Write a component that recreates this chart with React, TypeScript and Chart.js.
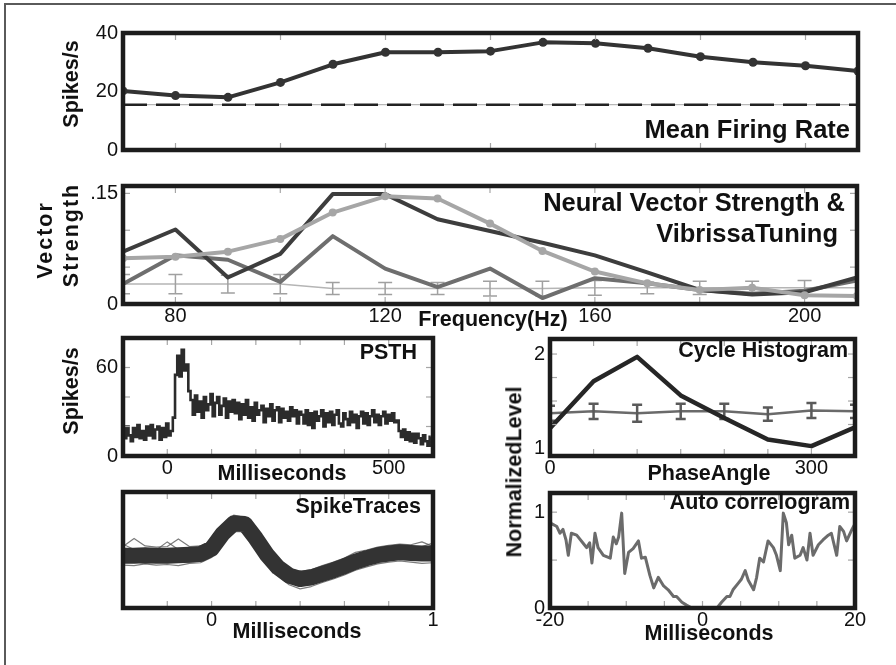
import React, { useEffect, useRef } from "react";
import { Chart, registerables } from "chart.js";

Chart.register(...registerables);

const FONT = "'Liberation Sans', Arial, Helvetica, sans-serif";

// ---------- Panel 1 : Mean Firing Rate ----------
const freqHz = [70, 80, 90, 100, 110, 120, 130, 140, 150, 160, 170, 180, 190, 200, 210];
const meanRate = [20.2, 18.6, 18.0, 23.1, 29.3, 33.4, 33.4, 33.8, 36.8, 36.5, 34.8, 31.9, 30.0, 28.8, 27.0];
const spontRate = 15.5;
const rateTicks = [0, 20, 40];
const freqMinorTicks = [80, 100, 120, 140, 160, 180, 200];

// ---------- Panel 2 : Neural Vector Strength & Vibrissa Tuning ----------
const vsNeuronLight = [0.062, 0.064, 0.071, 0.088, 0.124, 0.146, 0.143, 0.109, 0.072, 0.044, 0.028, 0.019, 0.022, 0.012, 0.011];
const vsNeuronDark = [0.071, 0.101, 0.036, 0.068, 0.149, 0.149, 0.115, 0.099, 0.083, 0.066, 0.043, 0.019, 0.013, 0.016, 0.036];
const vsNeuronMid = [0.027, 0.066, 0.060, 0.030, 0.092, 0.048, 0.023, 0.048, 0.008, 0.035, 0.028, 0.019, 0.014, 0.018, 0.032];
const vsVibrissa = [0.027, 0.027, 0.027, 0.027, 0.021, 0.021, 0.021, 0.021, 0.021, 0.022, 0.022, 0.022, 0.022, 0.022, 0.022];
const vsVibrissaErr = [0.013, 0.013, 0.012, 0.013, 0.008, 0.008, 0.008, 0.01, 0.01, 0.01, 0.008, 0.009, 0.009, 0.01, 0.01];
const freqTickLabels = [80, 120, 160, 200];
const vsTicks = [0, 0.15];
const vsMinorTicks = [0.05, 0.1, 0.15];

// ---------- Panel 3 : PSTH ----------
const psthStartMs = -100;
const psthBinMs = 5;
const psthRate = [
  18, 12, 20, 14, 10, 19, 13, 21, 12, 17, 11, 20, 14, 21, 12, 18, 20, 11, 19, 13, 22, 14, 17,
  26, 55, 68, 54, 72, 58, 62, 44,
  38, 28, 41, 30, 37, 26, 40, 31, 35, 42, 27, 36, 40, 28, 34, 39, 26, 37, 30, 38,
  29, 36, 25, 35, 28, 38, 26, 33, 24, 36, 28, 31, 34, 23, 32, 27, 35, 24, 31, 33, 23, 32, 26, 30, 24, 33, 27, 31, 22, 30,
  28, 22, 31, 21, 29, 19, 30, 24, 27, 31, 20, 29, 23, 30, 21, 28, 31, 22, 20, 29, 25, 21, 30, 23, 28, 19, 27, 30, 22, 29,
  21, 27, 31, 23, 28, 21, 27, 30, 22, 28, 24, 29, 23,
  24, 17, 13, 18, 11, 16, 10, 15, 9, 15, 12, 8, 14, 10, 7, 13,
];
const psthXTicks = [0, 500];
const psthYTicks = [0, 60];
const psthMinorX = [0, 100, 200, 300, 400, 500];
const psthMinorY = [20, 40, 60];

// ---------- Panel 4 : Cycle Histogram ----------
const phaseDeg = [0, 50, 100, 150, 200, 250, 300, 350];
const cycleNeural = [1.21, 1.71, 1.97, 1.56, 1.32, 1.09, 1.02, 1.22];
const cycleVibrissa = [1.37, 1.39, 1.37, 1.39, 1.39, 1.36, 1.4, 1.39];
const cycleVibrissaErr = [0.08, 0.08, 0.09, 0.08, 0.08, 0.07, 0.08, 0.07];
const phaseTicks = [0, 300];
const levelTicks = [1, 2];
const phaseMinor = [50, 100, 150, 200, 250, 300];
const levelMinor = [1.25, 1.5, 1.75, 2];

// ---------- Panel 5 : Spike Traces ----------
const traceMs = [-0.4, -0.35, -0.3, -0.25, -0.2, -0.15, -0.1, -0.05, 0, 0.05, 0.1, 0.15, 0.2, 0.25, 0.3, 0.35, 0.4, 0.45, 0.5, 0.55, 0.6, 0.65, 0.7, 0.75, 0.8, 0.85, 0.9, 0.95, 1.0];
const traceMean = [0, 0, 0.01, 0, 0, 0.01, 0.02, 0.03, 0.12, 0.38, 0.56, 0.55, 0.3, 0.02, -0.2, -0.34, -0.4, -0.37, -0.31, -0.25, -0.18, -0.1, -0.04, 0.01, 0.04, 0.06, 0.05, 0.04, 0.04];
const traceA = [0.16, 0.3, 0.17, 0.15, 0.16, 0.29, 0.16, 0.17, 0.26, 0.52, 0.7, 0.66, 0.42, 0.14, -0.08, -0.22, -0.27, -0.24, -0.17, -0.11, -0.04, 0.06, 0.1, 0.15, 0.18, 0.2, 0.19, 0.24, 0.16];
const traceB = [-0.16, -0.17, -0.14, -0.16, -0.15, -0.17, -0.13, -0.12, -0.03, 0.24, 0.42, 0.41, 0.16, -0.12, -0.34, -0.5, -0.57, -0.53, -0.46, -0.4, -0.33, -0.25, -0.19, -0.14, -0.11, -0.09, -0.11, -0.13, -0.12];
const traceC = [0.12, 0.09, 0.13, 0.1, 0.24, 0.11, 0.09, 0.12, 0.22, 0.48, 0.64, 0.62, 0.38, 0.1, -0.12, -0.32, -0.42, -0.36, -0.24, -0.16, -0.08, -0.01, 0.06, 0.12, 0.14, 0.16, 0.14, 0.13, 0.14];
const traceD = [-0.12, -0.1, -0.13, -0.11, -0.12, -0.1, -0.11, -0.09, 0.02, 0.3, 0.48, 0.46, 0.22, -0.08, -0.29, -0.45, -0.5, -0.5, -0.42, -0.36, -0.28, -0.21, -0.14, -0.09, -0.06, -0.04, -0.06, -0.08, -0.07];
const traceE = [0.2, 0.11, 0.08, 0.09, 0.07, 0.09, 0.1, 0.14, 0.2, 0.46, 0.67, 0.64, 0.36, 0.08, -0.14, -0.26, -0.32, -0.28, -0.21, -0.15, -0.1, -0.02, 0.04, 0.1, 0.16, 0.14, 0.12, 0.16, 0.22];
const traceXTicks = [0, 1];
const traceMinorX = [-0.2, 0, 0.2, 0.4, 0.6, 0.8];

// ---------- Panel 6 : Auto correlogram ----------
const lagMs = [-20, -19.8, -19.1, -18.7, -18.3, -17.9, -17.6, -17.2, -16.5, -15.6, -15.2, -14.8, -14.5, -14.1, -13.7, -13.0, -12.1, -11.7, -11.3, -11.0, -10.6, -10.2, -9.7, -9.1, -8.4, -8.0, -7.5, -6.9, -6.4, -5.8, -5.1, -4.5, -3.8, -3.4, -2.7, -2.1, -1.4, 1.9, 2.5, 3.2, 3.6, 4.0, 4.7, 5.1, 5.6, 6.0, 6.7, 7.1, 7.5, 8.0, 8.6, 9.3, 9.7, 10.2, 10.6, 11.0, 11.3, 11.7, 12.1, 12.8, 13.2, 13.7, 14.1, 14.5, 15.2, 15.8, 16.5, 16.9, 17.6, 18.0, 18.5, 18.9, 19.6, 20];
const autoCorr = [0.88, 0.88, 0.85, 0.78, 0.82, 0.71, 0.55, 0.78, 0.76, 0.67, 0.63, 0.68, 0.47, 0.78, 0.63, 0.55, 0.52, 0.74, 0.67, 0.74, 0.99, 0.36, 0.58, 0.62, 0.7, 0.52, 0.53, 0.34, 0.21, 0.32, 0.23, 0.19, 0.12, 0.12, 0.06, 0.03, 0.0, 0.0, 0.06, 0.12, 0.12, 0.19, 0.26, 0.3, 0.39, 0.29, 0.19, 0.32, 0.52, 0.48, 0.7, 0.63, 0.55, 0.39, 0.99, 0.89, 0.66, 0.76, 0.52, 0.55, 0.63, 0.5, 0.78, 0.55, 0.66, 0.71, 0.76, 0.78, 0.55, 0.85, 0.8, 0.7, 0.82, 0.88];
const lagTicks = [-20, 0, 20];
const acTicks = [0, 1];
const lagMinor = [-15, -10, -5, 0, 5, 10, 15];
const acMinor = [0.5, 1];

// ---------- helpers ----------
const pts = (xs: number[], ys: number[]) => xs.map((x, i) => ({ x, y: ys[i] }));

const framePlugin = {
  id: "frame",
  afterDatasetsDraw(chart: any, _args: any, opts: any) {
    const { ctx, chartArea: a, scales } = chart;
    ctx.save();
    ctx.strokeStyle = "#a6a6a6";
    ctx.lineWidth = 1.2;
    const seg = (x1: number, y1: number, x2: number, y2: number) => {
      ctx.beginPath();
      ctx.moveTo(x1, y1);
      ctx.lineTo(x2, y2);
      ctx.stroke();
    };
    (opts.xMinor || []).forEach((v: number) => {
      const px = scales.x.getPixelForValue(v);
      seg(px, a.top, px, a.top + 7);
      seg(px, a.bottom, px, a.bottom - 7);
    });
    (opts.yMinor || []).forEach((v: number) => {
      const py = scales.y.getPixelForValue(v);
      seg(a.left, py, a.left + 7, py);
      seg(a.right, py, a.right - 7, py);
    });
    ctx.strokeStyle = "#1c1c1c";
    ctx.lineWidth = 4.5;
    ctx.strokeRect(a.left, a.top, a.right - a.left, a.bottom - a.top);
    ctx.restore();
  },
};

const errorBarPlugin = {
  id: "errorBars",
  afterDatasetDraw(chart: any, args: any) {
    const ds = chart.data.datasets[args.index];
    if (!ds.errors) return;
    const { ctx, chartArea: a } = chart;
    const ys = chart.scales.y;
    ctx.save();
    ctx.beginPath();
    ctx.rect(a.left, a.top, a.right - a.left, a.bottom - a.top);
    ctx.clip();
    ctx.strokeStyle = ds.errorColor;
    ctx.lineWidth = ds.errorWidth;
    const c = ds.capWidth / 2;
    args.meta.data.forEach((p: any, i: number) => {
      const v = ds.data[i].y;
      const e = ds.errors[i];
      const y1 = ys.getPixelForValue(v - e);
      const y2 = ys.getPixelForValue(v + e);
      ctx.beginPath();
      ctx.moveTo(p.x, y1);
      ctx.lineTo(p.x, y2);
      ctx.moveTo(p.x - c, y1);
      ctx.lineTo(p.x + c, y1);
      ctx.moveTo(p.x - c, y2);
      ctx.lineTo(p.x + c, y2);
      ctx.stroke();
    });
    ctx.restore();
  },
};

const PADL = 70, PADT = 20, PADR = 20, PADB = 34;

type Spec = {
  datasets: any[];
  xMin: number; xMax: number; yMin: number; yMax: number;
  xTicks: number[]; yTicks: number[];
  xMinor?: number[]; yMinor?: number[];
  yFmt?: (v: number) => string;
};

function buildConfig(s: Spec): any {
  const tickFont = { family: FONT, size: 20 };
  return {
    type: "line",
    data: { datasets: s.datasets },
    options: {
      animation: false,
      responsive: false,
      devicePixelRatio: 1,
      events: [],
      layout: { padding: { left: 0, top: PADT, right: PADR, bottom: 0 } },
      plugins: {
        legend: { display: false },
        tooltip: { enabled: false },
        frame: { xMinor: s.xMinor || [], yMinor: s.yMinor || [] },
      },
      elements: { line: { tension: 0 } },
      scales: {
        x: {
          type: "linear",
          bounds: "data",
          min: s.xMin,
          max: s.xMax,
          grid: { display: false, drawTicks: false },
          border: { display: false },
          ticks: {
            display: s.xTicks.length > 0,
            font: tickFont,
            color: "#111",
            padding: 0,
            maxRotation: 0,
            autoSkip: false,
            callback: (v: number) => String(v),
          },
          afterBuildTicks: (sc: any) => {
            sc.ticks = s.xTicks.map((v) => ({ value: v }));
          },
          afterFit: (sc: any) => {
            sc.height = PADB;
            sc.paddingLeft = 0; sc.paddingRight = 0; sc.paddingTop = 0; sc.paddingBottom = 0;
          },
        },
        y: {
          type: "linear",
          bounds: "data",
          min: s.yMin,
          max: s.yMax,
          grid: { display: false, drawTicks: false },
          border: { display: false },
          ticks: {
            display: s.yTicks.length > 0,
            font: tickFont,
            color: "#111",
            padding: 5,
            autoSkip: false,
            callback: (v: number) => (s.yFmt ? s.yFmt(v) : String(v)),
          },
          afterBuildTicks: (sc: any) => {
            sc.ticks = s.yTicks.map((v) => ({ value: v }));
          },
          afterFit: (sc: any) => {
            sc.width = PADL;
            sc.paddingLeft = 0; sc.paddingRight = 0; sc.paddingTop = 0; sc.paddingBottom = 0;
          },
        },
      },
    },
    plugins: [errorBarPlugin, framePlugin],
  };
}

type Box = { left: number; top: number; width: number; height: number };

function ChartPanel({ box, spec }: { box: Box; spec: Spec }) {
  const ref = useRef<HTMLCanvasElement>(null);
  useEffect(() => {
    const chart = new Chart(ref.current as HTMLCanvasElement, buildConfig(spec));
    return () => chart.destroy();
  }, []);
  const w = box.width + PADL + PADR;
  const h = box.height + PADT + PADB;
  return (
    <canvas
      ref={ref}
      width={w}
      height={h}
      style={{ position: "absolute", left: box.left - PADL, top: box.top - PADT, width: w, height: h }}
    />
  );
}

function Txt(props: { x: number; y: number; text: string; size?: number; align?: "center" | "right"; rotate?: boolean; spacing?: number; bold?: boolean }) {
  const { x, y, text, size = 21.5, align = "center", rotate = false, spacing = 0, bold = true } = props;
  const base: React.CSSProperties = {
    position: "absolute",
    fontFamily: FONT,
    fontWeight: bold ? "bold" : "normal",
    fontSize: size,
    lineHeight: 1,
    whiteSpace: "nowrap",
    color: "#111",
    letterSpacing: spacing,
  };
  if (align === "right") {
    return <div style={{ ...base, right: 896 - x, top: y, transform: "translateY(-50%)" }}>{text}</div>;
  }
  return (
    <div style={{ ...base, left: x, top: y, transform: `translate(-50%,-50%)${rotate ? " rotate(-90deg)" : ""}` }}>{text}</div>
  );
}

const line = (data: any[], color: string, width: number, extra: any = {}) => ({
  data,
  borderColor: color,
  backgroundColor: color,
  borderWidth: width,
  pointRadius: 0,
  fill: false,
  borderJoinStyle: "round",
  ...extra,
});

export default function App() {
  const p1: Spec = {
    datasets: [
      line(pts(freqHz, meanRate), "#333", 4, { pointRadius: 4.5, pointBorderWidth: 0, pointBackgroundColor: "#333" }),
      line([{ x: 70, y: spontRate }, { x: 210, y: spontRate }], "#222", 2.5, { borderDash: [24, 9] }),
      line([{ x: 70, y: spontRate }, { x: 210, y: spontRate }], "#b8b8b8", 1.2),
    ],
    xMin: 70, xMax: 210, yMin: 0, yMax: 40,
    xTicks: [], yTicks: rateTicks, xMinor: freqMinorTicks,
  };
  const p2: Spec = {
    datasets: [
      line(pts(freqHz, vsNeuronLight), "#a6a6a6", 4, { pointRadius: 4, pointBorderWidth: 0, pointBackgroundColor: "#a6a6a6" }),
      line(pts(freqHz, vsNeuronDark), "#3d3d3d", 4),
      line(pts(freqHz, vsNeuronMid), "#6e6e6e", 4),
      line(pts(freqHz, vsVibrissa), "#b5b5b5", 1.5, { errors: vsVibrissaErr, errorColor: "#a0a0a0", errorWidth: 1.5, capWidth: 14 }),
    ],
    xMin: 70, xMax: 210, yMin: 0, yMax: 0.16,
    xTicks: freqTickLabels, yTicks: vsTicks, xMinor: freqMinorTicks, yMinor: vsMinorTicks,
    yFmt: (v) => (v === 0 ? "0" : ".15"),
  };
  const psthX = psthRate.map((_, i) => psthStartMs + i * psthBinMs);
  const p3: Spec = {
    datasets: [line(pts(psthX, psthRate), "#2b2b2b", 2.6, { stepped: "middle", borderJoinStyle: "miter" })],
    xMin: -100, xMax: 600, yMin: 0, yMax: 80,
    xTicks: psthXTicks, yTicks: psthYTicks, xMinor: psthMinorX, yMinor: psthMinorY,
  };
  const p4: Spec = {
    datasets: [
      line(pts(phaseDeg, cycleNeural), "#262626", 4.5),
      line(pts(phaseDeg, cycleVibrissa), "#6a6a6a", 2.5, { errors: cycleVibrissaErr, errorColor: "#5a5a5a", errorWidth: 2.5, capWidth: 10 }),
    ],
    xMin: 0, xMax: 350, yMin: 0.915, yMax: 2.16,
    xTicks: phaseTicks, yTicks: levelTicks, xMinor: phaseMinor, yMinor: levelMinor,
  };
  const thin = "rgba(90,90,90,0.8)";
  const p5: Spec = {
    datasets: [
      line(pts(traceMs, traceMean), "#333", 16),
      line(pts(traceMs, traceA), thin, 1.2),
      line(pts(traceMs, traceB), thin, 1.2),
      line(pts(traceMs, traceC), thin, 1.2),
      line(pts(traceMs, traceD), thin, 1.2),
      line(pts(traceMs, traceE), thin, 1.2),
    ],
    xMin: -0.4, xMax: 1.0, yMin: -0.9, yMax: 1.1,
    xTicks: traceXTicks, yTicks: [], xMinor: traceMinorX,
  };
  const p6: Spec = {
    datasets: [line(pts(lagMs, autoCorr), "#6b6b6b", 3)],
    xMin: -20, xMax: 20, yMin: 0, yMax: 1.2,
    xTicks: lagTicks, yTicks: acTicks, xMinor: lagMinor, yMinor: acMinor,
  };

  return (
    <div style={{ position: "absolute", left: 0, top: 0, width: 896, height: 665, overflow: "hidden", background: "#fff" }}>
      <div style={{ position: "absolute", left: 4, top: 3, width: 920, height: 700, border: "2px solid #5a5a5a" }} />
      <ChartPanel box={{ left: 123, top: 33, width: 735, height: 117 }} spec={p1} />
      <ChartPanel box={{ left: 123, top: 186, width: 734, height: 118 }} spec={p2} />
      <ChartPanel box={{ left: 123, top: 338, width: 310, height: 118 }} spec={p3} />
      <ChartPanel box={{ left: 550, top: 339, width: 305, height: 117 }} spec={p4} />
      <ChartPanel box={{ left: 123, top: 492, width: 310, height: 116 }} spec={p5} />
      <ChartPanel box={{ left: 550, top: 493, width: 305, height: 115 }} spec={p6} />

      <Txt x={72} y={84} text="Spikes/s" rotate />
      <Txt x={850} y={130} text="Mean Firing Rate" align="right" size={25.5} />

      <Txt x={46} y={240} text="Vector" rotate spacing={2} />
      <Txt x={72} y={235} text="Strength" rotate spacing={2} />
      <Txt x={845} y={203} text="Neural Vector Strength &" align="right" size={25.5} />
      <Txt x={838} y={234} text="VibrissaTuning" align="right" size={25.5} />
      <Txt x={493} y={320} text="Frequency(Hz)" />

      <Txt x={72} y={391} text="Spikes/s" rotate />
      <Txt x={417} y={353} text="PSTH" align="right" />
      <Txt x={282} y={474} text="Milliseconds" />

      <Txt x={515} y={472} text="NormalizedLevel" rotate />
      <Txt x={848} y={351} text="Cycle Histogram" align="right" />
      <Txt x={709} y={474} text="PhaseAngle" />

      <Txt x={421} y={507} text="SpikeTraces" align="right" />
      <Txt x={297} y={632} text="Milliseconds" />

      <Txt x={850} y={503} text="Auto correlogram" align="right" />
      <Txt x={709} y={634} text="Milliseconds" />
    </div>
  );
}
